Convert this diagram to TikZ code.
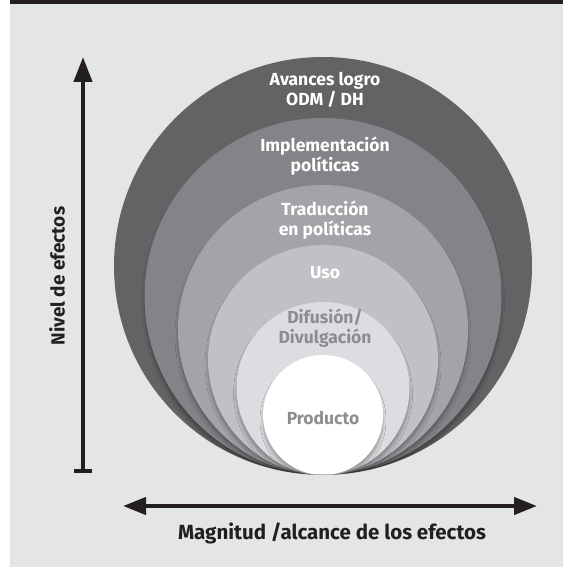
\documentclass[tikz,border=0pt]{standalone}
\usepackage{fontspec}
\setmainfont{Fira Sans}
\usetikzlibrary{arrows.meta,shadows.blur}
\definecolor{bgpanel}{HTML}{E4E5E7}
\definecolor{cA}{HTML}{636365}
\definecolor{cB}{HTML}{838487}
\definecolor{cC}{HTML}{A3A4A7}
\definecolor{cD}{HTML}{C0C1C4}
\definecolor{cE}{HTML}{DCDDE0}
\definecolor{txtgray}{HTML}{8C8D90}
\definecolor{axisblack}{HTML}{231F20}
\tikzset{
  ring/.style={circle, inner sep=0pt, outer sep=0pt, draw=none},
  shad/.style={blur shadow={shadow xshift=0pt, shadow yshift=-5pt, shadow blur radius=3pt, shadow blur steps=6, shadow opacity=30}},
  lbl/.style={font=\fontsize{17.5}{20}\selectfont\bfseries, align=center, text=white, inner sep=0pt},
  lblgray/.style={lbl, text=txtgray},
  axis/.style={line width=4.2pt, draw=axisblack},
  axlbl/.style={font=\fontsize{20.5}{24}\selectfont\bfseries, text=axisblack, inner sep=0pt}
}
\begin{document}
\begin{tikzpicture}[x=1pt,y=-1pt]
\useasboundingbox (0,0) rectangle (573,577);
\fill[white] (0,0) rectangle (573,577);
\fill[bgpanel] (10,0) rectangle (563,567);
\fill[axisblack] (10,0) rectangle (563,4);
% nested circles tangent at bottom y=475, centre x=323
\node[ring, fill=cA, minimum size=418] (r1) at (323,266) {};
\begin{scope}
\clip (323,266) circle (208.5);
\node[ring, shad, fill=cB, minimum size=357] (r2) at (323,296.5) {};
\node[ring, shad, fill=cC, minimum size=290] (r3) at (323,330) {};
\node[ring, shad, fill=cD, minimum size=230] (r4) at (323,360) {};
\node[ring, shad, fill=cE, minimum size=173] (r5) at (323,388.5) {};
\node[ring, shad, fill=white, minimum size=120] (r6) at (323,415) {};
\end{scope}
% labels
\node[lbl] (t1) at (325,90) {Avances logro\\ODM / DH};
\node[lbl] (t2) at (325,156) {Implementación\\políticas};
\node[lbl] (t3) at (325,220) {Traducción\\en políticas};
\node[lbl] (t4) at (325,273) {Uso};
\node[lblgray] (t5) at (325,328) {Difusión/\\Divulgación};
\node[lblgray] (t6) at (323,418) {Producto};
% vertical axis
\coordinate (vtop) at (83,57);
\coordinate (vbot) at (83,471);
\draw[axis, -{Triangle[length=25pt,width=18pt]}] (vbot) -- (vtop);
\draw[axis, line width=3.5pt] (74,471) -- (92,471);
\node[axlbl, rotate=90, font=\fontsize{19}{22}\selectfont\bfseries] (vl) at (57,276) {Nivel de efectos};
% horizontal axis
\coordinate (hl) at (123,506);
\coordinate (hr) at (537,506);
\draw[axis, {Triangle[length=23pt,width=17pt]}-{Triangle[length=23pt,width=17pt]}] (hl) -- (hr);
\node[axlbl] (hlbl) at (332,533) {Magnitud /alcance de los efectos};
\end{tikzpicture}
\end{document}
